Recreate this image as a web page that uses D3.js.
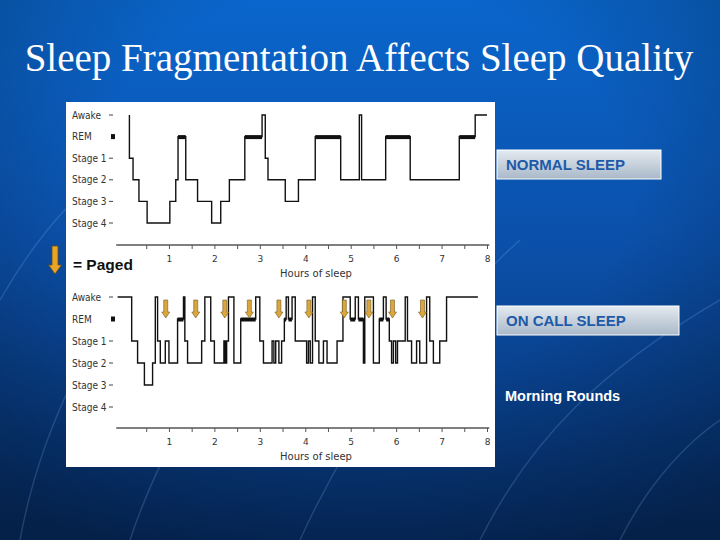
<!DOCTYPE html>
<html>
<head>
<meta charset="utf-8">
<script src="https://cdn.jsdelivr.net/npm/d3@7"></script>
<style>
  html, body { margin: 0; padding: 0; background: #0a4a9e; }
  svg { display: block; }
</style>
</head>
<body>
<div id="slide"></div>
<script>
// stage labels, top to bottom
const stageNames = ['Awake', 'REM', 'Stage 1', 'Stage 2', 'Stage 3', 'Stage 4'];
const hourTicks = [1, 2, 3, 4, 5, 6, 7, 8];
const halfHourTicks = [0.5, 1, 1.5, 2, 2.5, 3, 3.5, 4, 4.5, 5, 5.5, 6, 6.5, 7, 7.5, 8];

// normal sleep: hour where each stage starts
const normalTimes = [0.13, 0.13, 0.21, 0.34, 0.52, 1.02, 1.15, 1.20, 1.37, 1.63, 1.94, 2.14, 2.33, 2.67,
  3.05, 3.12, 3.18, 3.56, 3.85, 4.22, 4.78, 5.19, 5.24, 5.77, 6.31, 7.39, 7.74];
const normalStages = ['Awake', 'Stage 1', 'Stage 2', 'Stage 3', 'Stage 4', 'Stage 3', 'Stage 2', 'REM', 'Stage 2',
  'Stage 3', 'Stage 4', 'Stage 3', 'Stage 2', 'REM', 'Awake', 'Stage 1', 'Stage 2', 'Stage 3', 'Stage 2', 'REM',
  'Stage 2', 'Awake', 'Stage 2', 'REM', 'Stage 2', 'REM', 'Awake'];
const normalEnd = 8.0;

// on call sleep
const onCallTimes = [-0.13, 0.18, 0.31, 0.46, 0.64, 0.70, 0.75, 0.81, 0.92, 1.00, 1.19, 1.32, 1.35, 1.41,
  1.72, 1.79, 1.92, 2.00, 2.21, 2.24, 2.27, 2.31, 2.43, 2.58, 2.91, 3.00, 3.08, 3.27, 3.31, 3.35, 3.42,
  3.48, 3.54, 3.58, 3.63, 3.71, 3.78, 3.84, 4.03, 4.07, 4.11, 4.16, 4.22, 4.30, 4.40, 4.48, 4.70, 4.83,
  4.99, 5.10, 5.17, 5.28, 5.31, 5.50, 5.63, 5.72, 5.78, 5.85, 5.90, 5.94, 5.99, 6.03, 6.20, 6.25, 6.34,
  6.45, 6.52, 6.67, 6.74, 6.82, 6.96, 7.11];
const onCallStages = ['Awake', 'Stage 1', 'Stage 2', 'Stage 3', 'Stage 2', 'Awake', 'Stage 1', 'Stage 2',
  'Stage 1', 'Stage 2', 'REM', 'Awake', 'Stage 1', 'Stage 2', 'Stage 1', 'Awake', 'Stage 1', 'Stage 2',
  'Stage 1', 'Stage 2', 'Stage 1', 'Awake', 'Stage 2', 'REM', 'Awake', 'Stage 1', 'Stage 2', 'Stage 1',
  'Stage 2', 'Stage 1', 'Stage 2', 'Stage 1', 'REM', 'Awake', 'REM', 'Awake', 'Stage 1', 'Stage 1',
  'Stage 2', 'Stage 1', 'Stage 2', 'Awake', 'Stage 1', 'Stage 2', 'Stage 1', 'Stage 2', 'Stage 1', 'Awake',
  'REM', 'Awake', 'REM', 'Stage 2', 'Awake', 'Stage 2', 'REM', 'Awake', 'REM', 'Stage 1', 'Stage 2',
  'Stage 1', 'Stage 2', 'Stage 1', 'Awake', 'Stage 1', 'Stage 2', 'Stage 1', 'Stage 2', 'Awake', 'Stage 1',
  'Stage 2', 'Stage 1', 'Awake'];
const onCallEnd = 7.80;

// times the doctor was paged
const pagedHours = [0.93, 1.59, 2.23, 2.77, 3.42, 4.08, 4.86, 5.40, 5.92, 6.58];

const width = 720;
const height = 540;

const svg = d3.select('#slide')
  .append('svg')
  .attr('width', width)
  .attr('height', height);

const defs = svg.append('defs');

const bg = defs.append('linearGradient')
  .attr('id', 'bgGrad')
  .attr('x1', 0).attr('y1', 0).attr('x2', 0).attr('y2', 1);
bg.append('stop').attr('offset', '0%').attr('stop-color', '#0a66cc');
bg.append('stop').attr('offset', '45%').attr('stop-color', '#0b50aa');
bg.append('stop').attr('offset', '100%').attr('stop-color', '#062f6a');

const vignette = defs.append('radialGradient')
  .attr('id', 'vignette')
  .attr('cx', '50%').attr('cy', '35%').attr('r', '75%');
vignette.append('stop').attr('offset', '50%').attr('stop-color', '#000').attr('stop-opacity', 0);
vignette.append('stop').attr('offset', '100%').attr('stop-color', '#000').attr('stop-opacity', 0.32);

const boxGrad = defs.append('linearGradient')
  .attr('id', 'boxGrad')
  .attr('x1', 0).attr('y1', 0).attr('x2', 0).attr('y2', 1);
boxGrad.append('stop').attr('offset', '0%').attr('stop-color', '#e4eaf0');
boxGrad.append('stop').attr('offset', '100%').attr('stop-color', '#a9b8c8');

svg.append('rect').attr('width', width).attr('height', height).attr('fill', 'url(#bgGrad)');
svg.append('rect').attr('width', width).attr('height', height).attr('fill', 'url(#vignette)');

// faint background arcs
const arcs = [
  'M 20 540 C 40 430 90 330 170 230',
  'M 130 540 C 170 420 250 300 380 170',
  'M 300 540 C 350 430 420 330 520 240',
  'M 480 540 C 530 440 600 370 720 300',
  'M 0 300 C 40 230 80 190 130 150',
  'M 620 540 C 650 480 690 440 720 420'
];
svg.selectAll('path.arc')
  .data(arcs)
  .enter()
  .append('path')
  .attr('class', 'arc')
  .attr('d', d => d)
  .attr('fill', 'none')
  .attr('stroke', 'rgba(140,190,255,0.2)')
  .attr('stroke-width', 1.5);

// title
svg.append('text')
  .attr('x', 359)
  .attr('y', 71)
  .attr('text-anchor', 'middle')
  .attr('font-family', '"Liberation Serif", "DejaVu Serif", serif')
  .attr('font-size', 39)
  .attr('fill', '#ffffff')
  .text('Sleep Fragmentation Affects Sleep Quality');

// white figure panel
svg.append('rect')
  .attr('x', 66).attr('y', 102)
  .attr('width', 429).attr('height', 365)
  .attr('fill', '#ffffff');

const x = d3.scaleLinear()
  .domain([0, 8])
  .range([123.5, 487]);

function stepPath(times, stages, end, y) {
  let d = `M${x(times[0])},${y(stages[0])}`;
  for (let i = 1; i < times.length; i++) {
    d += `H${x(times[i])}V${y(stages[i])}`;
  }
  d += `H${x(end)}`;
  return d;
}

function drawHypnogram(times, stages, end, top, bottom, axisY) {
  const y = d3.scalePoint()
    .domain(stageNames)
    .range([top, bottom]);

  const g = svg.append('g');

  // stage labels
  g.selectAll('text.stage')
    .data(stageNames)
    .enter()
    .append('text')
    .attr('class', 'stage')
    .attr('x', 72)
    .attr('y', d => y(d) + 3.5)
    .attr('font-family', '"DejaVu Sans Condensed", "DejaVu Sans", sans-serif')
    .attr('font-size', 10)
    .attr('fill', '#333')
    .text(d => d);

  // small tick marks next to labels
  g.selectAll('line.stageTick')
    .data(stageNames.filter(d => d !== 'REM'))
    .enter()
    .append('line')
    .attr('class', 'stageTick')
    .attr('x1', 109).attr('x2', 113)
    .attr('y1', d => y(d)).attr('y2', d => y(d))
    .attr('stroke', '#444')
    .attr('stroke-width', 1);

  g.append('rect')
    .attr('x', 111).attr('y', y('REM') - 2.5)
    .attr('width', 4).attr('height', 5)
    .attr('fill', '#111');

  // the trace
  g.append('path')
    .attr('d', stepPath(times, stages, end, y))
    .attr('fill', 'none')
    .attr('stroke', '#111')
    .attr('stroke-width', 1.4);

  // REM periods drawn as heavy bars
  const remSegs = [];
  stages.forEach((s, i) => {
    if (s === 'REM') {
      const t1 = i + 1 < times.length ? times[i + 1] : end;
      remSegs.push([times[i], t1]);
    }
  });
  g.selectAll('line.rem')
    .data(remSegs)
    .enter()
    .append('line')
    .attr('class', 'rem')
    .attr('x1', d => x(d[0])).attr('x2', d => x(d[1]))
    .attr('y1', y('REM') + 0.5).attr('y2', y('REM') + 0.5)
    .attr('stroke', '#111')
    .attr('stroke-width', 4);

  // x axis
  g.append('line')
    .attr('x1', x(-0.16)).attr('x2', x(8.05))
    .attr('y1', axisY).attr('y2', axisY)
    .attr('stroke', '#555')
    .attr('stroke-width', 1.5);

  const axis = g.append('g')
    .attr('transform', `translate(0,${axisY})`)
    .call(d3.axisBottom(x)
      .tickValues(halfHourTicks)
      .tickSize(4)
      .tickFormat(d => hourTicks.includes(d) ? d : ''));
  axis.select('.domain').remove();
  axis.selectAll('line').attr('stroke', '#555');
  axis.selectAll('text')
    .attr('font-family', '"DejaVu Sans", sans-serif')
    .attr('font-size', 9)
    .attr('fill', '#333')
    .attr('dy', '1.1em');

  g.append('text')
    .attr('x', 316)
    .attr('y', axisY + 32)
    .attr('text-anchor', 'middle')
    .attr('font-family', '"DejaVu Sans", sans-serif')
    .attr('font-size', 10)
    .attr('fill', '#333')
    .text('Hours of sleep');

  return y;
}

drawHypnogram(normalTimes, normalStages, normalEnd, 115, 223, 245);
drawHypnogram(onCallTimes, onCallStages, onCallEnd, 297, 407, 428);

// paging arrows
function arrowPath(cx, y0, y1, shaftW, headW, headH) {
  return `M${cx - shaftW / 2},${y0} L${cx + shaftW / 2},${y0} L${cx + shaftW / 2},${y1 - headH}
    L${cx + headW / 2},${y1 - headH} L${cx},${y1} L${cx - headW / 2},${y1 - headH}
    L${cx - shaftW / 2},${y1 - headH} Z`;
}

svg.selectAll('path.page')
  .data(pagedHours)
  .enter()
  .append('path')
  .attr('class', 'page')
  .attr('d', d => arrowPath(x(d), 300, 318, 4, 8, 6))
  .attr('fill', '#d9a73e')
  .attr('stroke', '#7a5a1c')
  .attr('stroke-width', 0.6);

// legend arrow
svg.append('path')
  .attr('d', arrowPath(55, 246, 274, 6, 13, 9))
  .attr('fill', '#e9a42a')
  .attr('stroke', '#6b4a10')
  .attr('stroke-width', 0.8);

svg.append('text')
  .attr('x', 73)
  .attr('y', 270)
  .attr('font-family', '"Liberation Sans", Arial, sans-serif')
  .attr('font-weight', 'bold')
  .attr('font-size', 15.5)
  .attr('fill', '#111')
  .text('= Paged');

// side labels
const boxes = [
  { label: 'NORMAL SLEEP', x: 497, y: 150, w: 164, h: 29 },
  { label: 'ON CALL SLEEP', x: 497, y: 306, w: 182, h: 29 }
];
boxes.forEach(b => {
  svg.append('rect')
    .attr('x', b.x).attr('y', b.y)
    .attr('width', b.w).attr('height', b.h)
    .attr('fill', 'url(#boxGrad)')
    .attr('stroke', '#ffffff')
    .attr('stroke-width', 1);
  svg.append('text')
    .attr('x', b.x + 9)
    .attr('y', b.y + 20)
    .attr('font-family', '"Liberation Sans", Arial, sans-serif')
    .attr('font-weight', 'bold')
    .attr('font-size', 15)
    .attr('fill', '#1d5aa8')
    .text(b.label);
});

svg.append('text')
  .attr('x', 505)
  .attr('y', 401)
  .attr('font-family', '"Liberation Sans", Arial, sans-serif')
  .attr('font-weight', 'bold')
  .attr('font-size', 14.5)
  .attr('fill', '#ffffff')
  .text('Morning Rounds');
</script>
</body>
</html>
